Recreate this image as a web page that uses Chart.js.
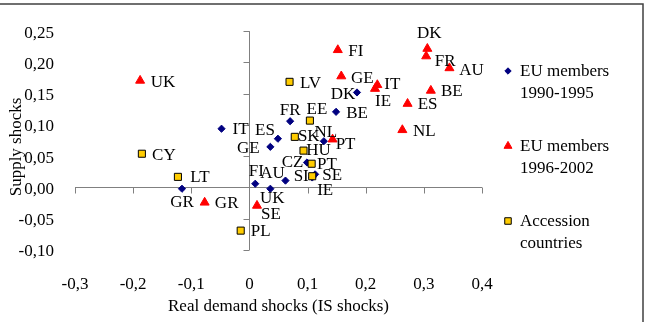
<!DOCTYPE html>
<html>
<head>
<meta charset="utf-8">
<script src="https://cdn.jsdelivr.net/npm/chart.js@4.4.0/dist/chart.umd.min.js"></script>
<style>
  body { margin: 0; background: #fff; }
  canvas { display: block; }
</style>
</head>
<body>
<canvas id="shockChart" width="646" height="322"></canvas>
<script>
// EU members 1990-1995
const eu90Names = ['AU', 'BE', 'DK', 'FI', 'FR', 'GE', 'GR', 'IE', 'IT', 'NL', 'PT', 'SE', 'ES', 'UK'];
const eu90Demand = [0.062, 0.149, 0.185, 0.010, 0.070, 0.036, -0.116, 0.108, -0.048, 0.128, 0.099, 0.113, 0.049, 0.036];
const eu90Supply = [0.011, 0.121, 0.152, 0.006, 0.106, 0.065, -0.002, 0.016, 0.094, 0.074, 0.040, 0.021, 0.078, -0.002];

// EU members 1996-2002
const eu96Names = ['UK', 'GR', 'SE', 'FI', 'GE', 'PT', 'IT', 'IE', 'NL', 'ES', 'BE', 'DK', 'FR', 'AU'];
const eu96Demand = [-0.188, -0.077, 0.013, 0.152, 0.158, 0.143, 0.220, 0.216, 0.263, 0.272, 0.312, 0.306, 0.304, 0.344];
const eu96Supply = [0.171, -0.024, -0.029, 0.220, 0.178, 0.077, 0.164, 0.158, 0.092, 0.134, 0.155, 0.222, 0.210, 0.191];

// Accession countries
const accNames = ['CY', 'LT', 'PL', 'LV', 'EE', 'SK', 'HU', 'CZ', 'SI'];
const accDemand = [-0.185, -0.123, -0.015, 0.069, 0.104, 0.078, 0.093, 0.107, 0.108];
const accSupply = [0.054, 0.017, -0.069, 0.169, 0.107, 0.081, 0.059, 0.038, 0.018];

// where each country label sits next to its marker (px)
const eu90LabelOffsets = [[-13, -7], [21, 2], [-14, 2], [1, -12], [0, -11], [-22, 2], [0, 14], [13, 13], [19, 1], [2, -9], [20, 2], [17, 1], [-13, -8], [2, 10]];
const eu96LabelOffsets = [[23, 2], [22, 1], [14, 9], [18, 2], [21, 2], [13, 5], [15, 0], [8, 13], [22, 2], [20, 1], [21, 1], [2, -15], [19, 5], [22, 2]];
const accLabelOffsets = [[22, 2], [22, 1], [20, 1], [21, 2], [7, -11], [14, 0], [15, 0], [-19, -1], [-11, 0]];

const FONT_FAMILY = '"Liberation Serif", "Times New Roman", serif';
const FONT_SIZE = 17;

function toPoints(xs, ys) {
    return xs.map((v, i) => ({ x: v, y: ys[i] }));
}

function fmtComma(v, digits) {
    if (Math.abs(v) < 1e-9) return digits === 1 ? '0' : '0,00';
    return v.toFixed(digits).replace('.', ',');
}

// axes crossing at zero, with outside tick marks
const crossAxes = {
    id: 'crossAxes',
    beforeDatasetsDraw(chart) {
        const { ctx, scales: { x, y } } = chart;
        const x0 = Math.round(x.getPixelForValue(0)) + 0.5;
        const y0 = Math.round(y.getPixelForValue(0)) + 0.5;
        ctx.save();
        ctx.strokeStyle = '#808080';
        ctx.lineWidth = 1;
        ctx.beginPath();
        ctx.moveTo(x.left, y0);
        ctx.lineTo(x.right, y0);
        ctx.moveTo(x0, y.top);
        ctx.lineTo(x0, y.bottom);
        x.ticks.forEach(t => {
            const px = Math.round(x.getPixelForValue(t.value)) + 0.5;
            ctx.moveTo(px, y0);
            ctx.lineTo(px, y0 + 6);
        });
        y.ticks.forEach(t => {
            const py = Math.round(y.getPixelForValue(t.value)) + 0.5;
            ctx.moveTo(x0 - 6, py);
            ctx.lineTo(x0, py);
        });
        ctx.stroke();
        ctx.restore();
    }
};

// country codes beside each marker
const pointLabels = {
    id: 'pointLabels',
    afterDatasetsDraw(chart) {
        const ctx = chart.ctx;
        ctx.save();
        ctx.font = FONT_SIZE + 'px ' + FONT_FAMILY;
        ctx.fillStyle = '#000';
        ctx.textAlign = 'center';
        ctx.textBaseline = 'middle';
        chart.data.datasets.forEach((ds, i) => {
            chart.getDatasetMeta(i).data.forEach((pt, j) => {
                const off = ds.labelOffsets[j];
                ctx.fillText(ds.names[j], pt.x + off[0], pt.y + off[1]);
            });
        });
        ctx.restore();
    }
};

// legend on the right, two lines per entry
const sideLegend = {
    id: 'sideLegend',
    afterDraw(chart) {
        const ctx = chart.ctx;
        const entries = [
            { ds: 0, lines: ['EU members', '1990-1995'], y: 72 },
            { ds: 1, lines: ['EU members', '1996-2002'], y: 147 },
            { ds: 2, lines: ['Accession', 'countries'], y: 222 }
        ];
        ctx.save();
        entries.forEach(e => {
            const ds = chart.data.datasets[e.ds];
            ctx.fillStyle = ds.backgroundColor;
            ctx.strokeStyle = ds.borderColor;
            ctx.lineWidth = ds.borderWidth;
            Chart.helpers.drawPoint(ctx, {
                pointStyle: ds.pointStyle,
                radius: ds.legendRadius,
                rotation: 0,
                borderWidth: ds.borderWidth
            }, 508, e.y - 1);
            ctx.fillStyle = '#000';
            ctx.font = FONT_SIZE + 'px ' + FONT_FAMILY;
            ctx.textAlign = 'left';
            ctx.textBaseline = 'middle';
            e.lines.forEach((t, k) => ctx.fillText(t, 520, e.y + k * 22));
        });
        // frame of the whole chart
        ctx.strokeStyle = '#404040';
        ctx.lineWidth = 1.5;
        ctx.beginPath();
        ctx.moveTo(0, 4);
        ctx.lineTo(643, 4);
        ctx.lineTo(643, chart.height + 2);
        ctx.stroke();
        ctx.restore();
    }
};

const tickFont = { family: FONT_FAMILY, size: FONT_SIZE };

new Chart(document.getElementById('shockChart').getContext('2d'), {
    type: 'scatter',
    data: {
        datasets: [{
            label: 'EU members 1990-1995',
            data: toPoints(eu90Demand, eu90Supply),
            names: eu90Names,
            labelOffsets: eu90LabelOffsets,
            pointStyle: 'rectRot',
            radius: 3.6,
            legendRadius: 3.2,
            backgroundColor: '#000080',
            borderColor: '#000080',
            borderWidth: 1,
            order: 3
        }, {
            label: 'EU members 1996-2002',
            data: toPoints(eu96Demand, eu96Supply),
            names: eu96Names,
            labelOffsets: eu96LabelOffsets,
            pointStyle: 'triangle',
            radius: 5.2,
            legendRadius: 4.6,
            backgroundColor: '#FF0000',
            borderColor: '#FF0000',
            borderWidth: 1,
            order: 2
        }, {
            label: 'Accession countries',
            data: toPoints(accDemand, accSupply),
            names: accNames,
            labelOffsets: accLabelOffsets,
            pointStyle: 'rect',
            radius: 5,
            legendRadius: 4.6,
            backgroundColor: '#FFCC00',
            borderColor: '#000000',
            borderWidth: 1,
            order: 1
        }]
    },
    options: {
        responsive: false,
        animation: false,
        events: [],
        layout: {
            padding: { top: 21, right: 164, left: 0, bottom: 0 }
        },
        plugins: {
            legend: { display: false },
            tooltip: { enabled: false }
        },
        scales: {
            x: {
                type: 'linear',
                min: -0.3,
                max: 0.4,
                grid: { display: false, drawTicks: false },
                border: { display: false },
                ticks: {
                    stepSize: 0.1,
                    padding: 24,
                    maxRotation: 0,
                    autoSkip: false,
                    color: '#000',
                    font: tickFont,
                    callback: v => fmtComma(v, 1)
                },
                title: {
                    display: true,
                    text: 'Real demand shocks (IS shocks)',
                    color: '#000',
                    font: tickFont,
                    padding: { top: 0, bottom: 5 }
                },
                afterFit: s => { s.height = 72; }
            },
            y: {
                type: 'linear',
                min: -0.1,
                max: 0.25,
                grid: { display: false, drawTicks: false },
                border: { display: false },
                ticks: {
                    stepSize: 0.05,
                    padding: 21,
                    labelOffset: 2,
                    color: '#000',
                    font: tickFont,
                    callback: v => fmtComma(v, 2)
                },
                title: {
                    display: true,
                    // trailing spaces push the centred title a little lower, as in the original
                    text: 'Supply shocks   ',
                    color: '#000',
                    font: tickFont,
                    padding: { top: 6, bottom: 0 }
                },
                afterFit: s => { s.width = 75; }
            }
        }
    },
    plugins: [crossAxes, pointLabels, sideLegend]
});
</script>
</body>
</html>
